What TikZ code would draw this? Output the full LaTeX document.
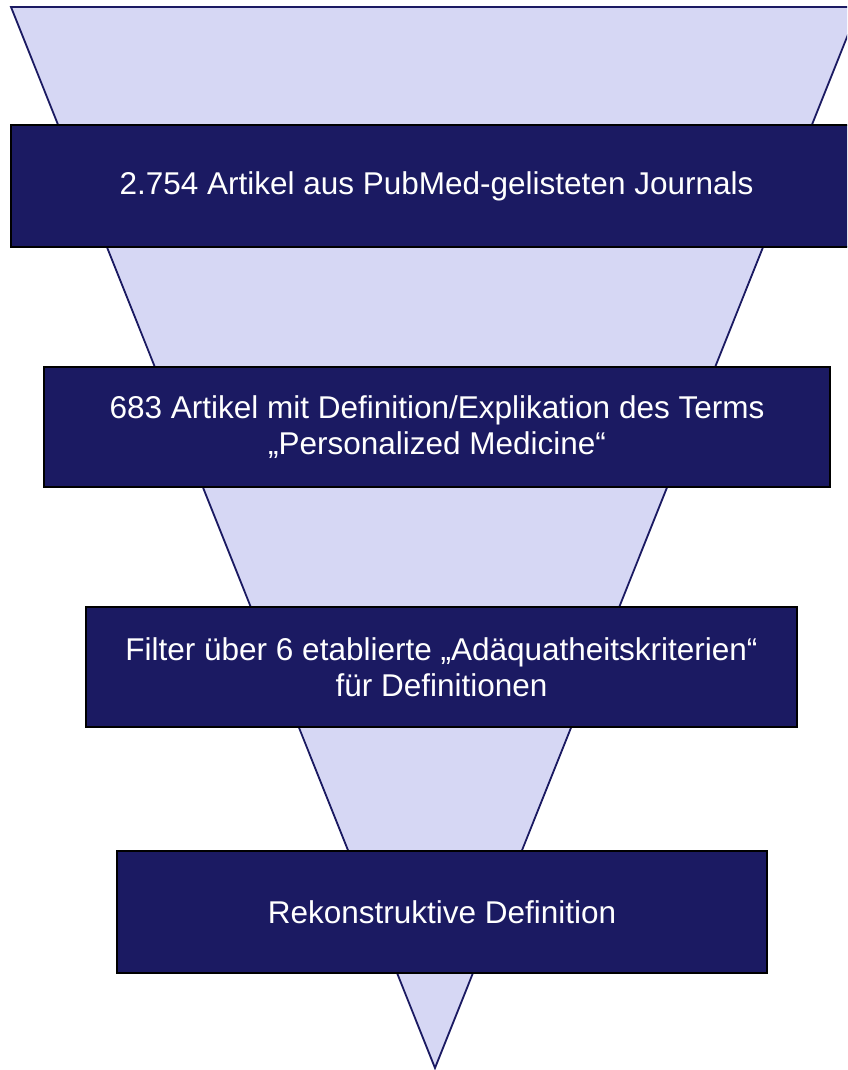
\documentclass[tikz,border=0pt]{standalone}
\usepackage{fontspec}
\setmainfont{Liberation Sans}
\definecolor{navy}{HTML}{1B1A62}
\definecolor{lav}{HTML}{D6D7F4}
\begin{document}
\begin{tikzpicture}[x=1pt,y=-1pt,
  stage/.style={draw=black, line width=1.5pt, fill=navy, text=white,
    font=\fontsize{31.5}{36}\selectfont, align=center, inner sep=0pt},
  funnel/.style={fill=lav, draw=navy, line width=1.8pt, line join=miter}]
\useasboundingbox (0,0) rectangle (847,1070);
\clip (0,0) rectangle (847,1070);
\coordinate (tl) at (11,7);
\coordinate (tr) at (859,7);
\coordinate (apex) at (435,1068);
\draw[funnel] (tl) -- (tr) -- (apex) -- cycle;
\node[stage, minimum width=851pt, minimum height=122pt] (s1) at (436.5,186) {2.754 Artikel aus PubMed-gelisteten Journals};
\node[stage, minimum width=786pt, minimum height=120pt] (s2) at (437,427) {683 Artikel mit Definition/Explikation des Terms\\„Personalized Medicine“};
\node[stage, minimum width=711pt, minimum height=120pt] (s3) at (441.5,667) {Filter über 6 etablierte „Adäquatheitskriterien“\\für Definitionen};
\node[stage, minimum width=650pt, minimum height=122pt] (s4) at (442,912) {Rekonstruktive Definition};
\end{tikzpicture}
\end{document}
